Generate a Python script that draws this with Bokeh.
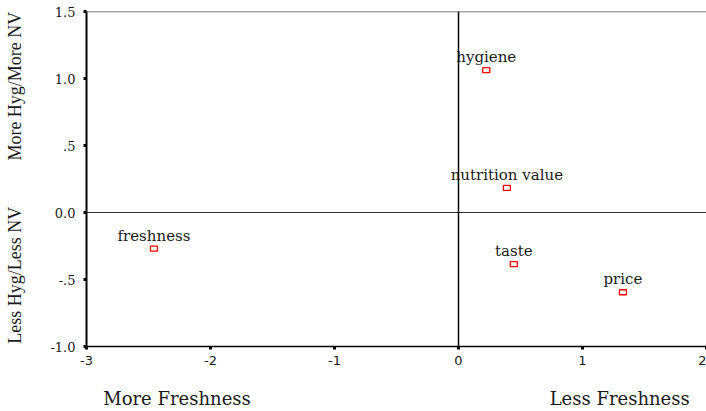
from bokeh.plotting import figure
from bokeh.models import ColumnDataSource, FixedTicker, Span, Range1d, LinearAxis
from bokeh.core.properties import value
from bokeh.embed import file_html
from bokeh.resources import INLINE

# ---- data ----
attributes = ["hygiene", "nutrition value", "freshness", "taste", "price"]
dim1 = [0.224, 0.39, -2.456, 0.446, 1.326]
dim2 = [1.062, 0.184, -0.269, -0.386, -0.595]
x_ticks = [-3, -2, -1, 0, 1, 2]
x_tick_labels = ["-3", "-2", "-1", "0", "1", "2"]
y_ticks = [-1.0, -0.5, 0.0, 0.5, 1.0, 1.5]
y_tick_labels = ["-1.0", "-.5", "0.0", ".5", "1.0", "1.5"]
x_titles = ["More Freshness", "Less Freshness"]
x_title_pos = [-2.27, 1.30]
y_titles = ["More Hyg/More NV", "Less Hyg/Less NV"]
y_title_pos = [0.943, -0.468]

source = ColumnDataSource(data=dict(x=dim1, y=dim2, name=attributes))

p = figure(width=706, height=411, output_backend="svg", toolbar_location=None,
           x_range=Range1d(-3, 2), y_range=Range1d(-1.0, 1.5),
           min_border_left=86, min_border_right=0, min_border_top=11,
           min_border_bottom=65)
p.outline_line_color = None
p.grid.visible = False
p.background_fill_color = "white"
p.border_fill_color = "white"

# main axes
p.xaxis.ticker = FixedTicker(ticks=x_ticks)
p.xaxis.major_label_overrides = {t: l for t, l in zip(x_ticks, x_tick_labels)}
p.yaxis.ticker = FixedTicker(ticks=y_ticks)
p.yaxis.major_label_overrides = {t: l for t, l in zip(y_ticks, y_tick_labels)}
for ax in (p.xaxis, p.yaxis):
    ax.axis_line_color = "black"
    ax.major_tick_line_color = "black"
    ax.major_tick_line_width = 3
    ax.major_tick_out = 3
    ax.major_tick_in = 0
    ax.minor_tick_line_color = None
    ax.major_label_text_color = "#1a1a1a"
p.yaxis.axis_line_width = 2
p.xaxis.axis_line_width = 1.5
p.xaxis.major_label_text_font = "DejaVu Sans"
p.xaxis.major_label_text_font_size = "13px"
p.xaxis.major_label_standoff = 6
p.yaxis.major_label_text_font = "DejaVu Serif"
p.yaxis.major_label_text_font_size = "13px"
p.yaxis.major_label_standoff = 8

# secondary axes carrying the pole titles
x_title_axis = LinearAxis(ticker=FixedTicker(ticks=x_title_pos),
                          major_label_overrides={t: l for t, l in zip(x_title_pos, x_titles)},
                          axis_line_color=None, major_tick_line_color=None,
                          minor_tick_line_color=None, major_tick_out=0, major_tick_in=0,
                          major_label_standoff=20, major_label_text_font="DejaVu Serif",
                          major_label_text_font_size="18px", major_label_text_color="#1a1a1a")
p.add_layout(x_title_axis, "below")

y_title_axis = LinearAxis(ticker=FixedTicker(ticks=y_title_pos),
                          major_label_overrides={t: l for t, l in zip(y_title_pos, y_titles)},
                          axis_line_color=None, major_tick_line_color=None,
                          minor_tick_line_color=None, major_tick_out=0, major_tick_in=0,
                          major_label_standoff=22, major_label_orientation="vertical",
                          major_label_text_font="Liberation Serif",
                          major_label_text_font_size="18px", major_label_text_color="#1a1a1a")
p.add_layout(y_title_axis, "left")

# reference lines
p.add_layout(Span(location=1.5, dimension="width", line_color="#555555", line_width=1.5))
p.add_layout(Span(location=0, dimension="width", line_color="#333333", line_width=1))
p.add_layout(Span(location=0, dimension="height", line_color="black", line_width=1.5))

# points
p.rect("x", "y", width=7, height=5, width_units="screen", height_units="screen",
       source=source, fill_color="white", line_color="red", line_width=1.3)
p.text("x", "y", text="name", source=source, text_align="center",
       text_baseline="alphabetic", y_offset=-13, text_font=value("DejaVu Serif"),
       text_font_size="15px", text_color="#1a1a1a")

open("out.html", "w").write(file_html(p, INLINE))
